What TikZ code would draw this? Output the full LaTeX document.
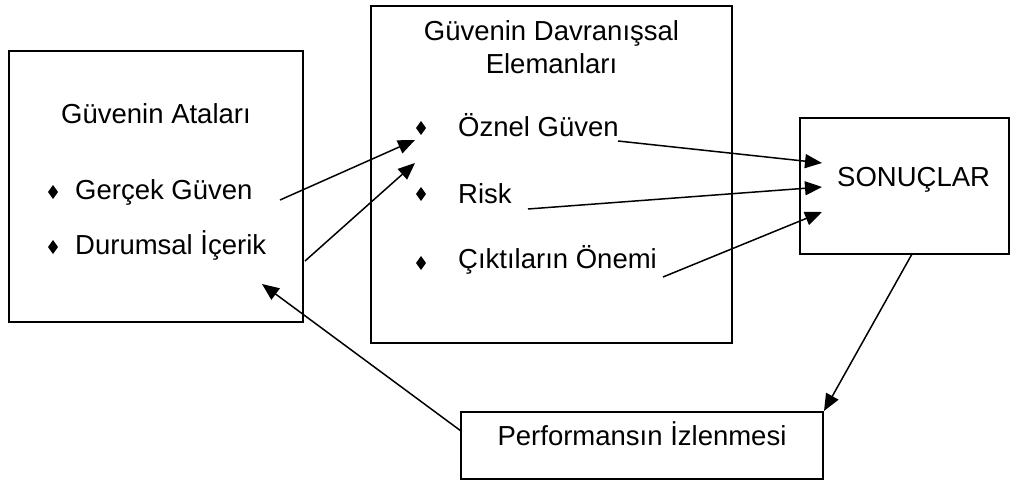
\documentclass[tikz,border=0pt]{standalone}
\usepackage{fontspec}
\setmainfont{Liberation Sans}
\usetikzlibrary{arrows.meta}
\tikzset{
  box/.style={draw, line width=1.7pt, minimum width=#1, inner sep=0pt, rectangle},
  lbl/.style={anchor=base west, inner sep=0pt, font=\fontsize{27.5}{33}\selectfont},
  clbl/.style={anchor=base, inner sep=0pt, font=\fontsize{27.5}{33}\selectfont},
  conn/.style={line width=1.5pt, -{Triangle[length=17pt,width=14pt]}},
}
\newcommand{\bulletdia}[2]{\fill (#1,#2-7) -- (#1+5,#2) -- (#1,#2+7) -- (#1-5,#2) -- cycle;}
\begin{document}
\begin{tikzpicture}[x=1pt,y=-1pt]
\useasboundingbox (0,0) rectangle (1016,481);
% boxes
\node[box=294pt, minimum height=271pt] (b1) at (156,186.5) {};
\node[box=361pt, minimum height=337pt] (b2) at (551.5,174.5) {};
\node[box=209pt, minimum height=136pt] (b3) at (904.5,186) {};
\node[box=362pt, minimum height=67pt] (b4) at (642,445.5) {};
% box 1 texts
\node[clbl] (t1) at (156,124) {Güvenin Ataları};
\bulletdia{53}{192}
\node[lbl] (t1a) at (75,199) {Gerçek Güven};
\bulletdia{53}{247}
\node[lbl] (t1b) at (75,254.5) {Durumsal İçerik};
% box 2 texts
\node[clbl] (t2) at (551.5,41) {Güvenin Davranışsal};
\node[clbl] (t2l) at (551.5,74) {Elemanları};
\bulletdia{421}{128}
\node[lbl] (t2a) at (458,137) {Öznel Güven};
\bulletdia{421}{194}
\node[lbl] (t2b) at (458,204) {Risk};
\bulletdia{421}{263}
\node[lbl] (t2c) at (458,268) {Çıktıların Önemi};
% box 3, 4
\node[lbl] (t3) at (837,186) {SONUÇLAR};
\node[clbl] (t4) at (642,445) {Performansın İzlenmesi};
% connector ends
\coordinate (s1) at (280,200); \coordinate (e1) at (415,140);
\coordinate (s2) at (305,261); \coordinate (e2) at (415,163);
\coordinate (s3) at (618,141); \coordinate (e3) at (822,163);
\coordinate (s4) at (528,209); \coordinate (e4) at (822,187);
\coordinate (s5) at (663,277); \coordinate (e5) at (822,212);
\coordinate (s6) at (912,254); \coordinate (e6) at (824,411);
\coordinate (s7) at (461,431); \coordinate (e7) at (262,284);
\draw[conn] (s1) -- (e1);
\draw[conn] (s2) -- (e2);
\draw[conn] (s3) -- (e3);
\draw[conn] (s4) -- (e4);
\draw[conn] (s5) -- (e5);
\draw[conn] (s6) -- (e6);
\draw[conn] (s7) -- (e7);
\end{tikzpicture}
\end{document}
